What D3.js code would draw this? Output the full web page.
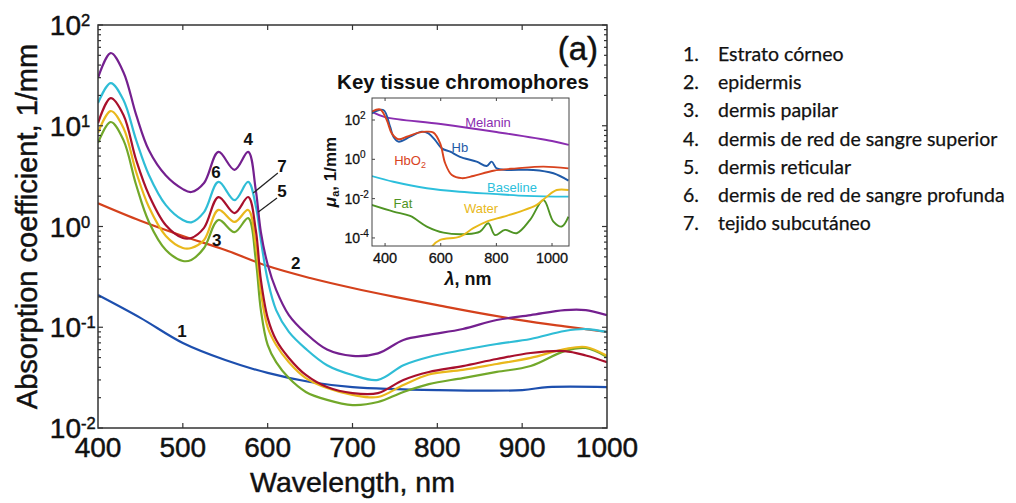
<!DOCTYPE html>
<html><head><meta charset="utf-8">
<script src="https://cdn.jsdelivr.net/npm/d3@7"></script>
<style>body{margin:0;background:#fff}svg{display:block}</style>
</head><body><svg id="c" width="1016" height="503"></svg>
<script>
// ---------- DATA ----------
const wavelengths = [400,415,430,445,460,480,500,510,525,542,561,577,586,592,600,610,625,645,670,700,730,760,790,830,870,910,950,975,1000];
const layer4 = [29.8,52.7,34,12.8,5.7,3.2,2.35,2.2,2.7,5.5,3.65,5.5,2.3,0.88,0.42,0.235,0.132,0.087,0.06,0.052,0.055,0.0747,0.084,0.096,0.118,0.132,0.148,0.148,0.132];
const layer6 = [16.8,26.5,18,7.2,3.25,1.63,1.16,1.1,1.39,2.77,1.83,2.77,1.6,0.73,0.295,0.148,0.09,0.061,0.042,0.0336,0.030,0.042,0.0507,0.0594,0.0682,0.0764,0.0918,0.096,0.09];
const layer7 = [10.6,18.8,12.8,4.57,2.06,1.03,0.77,0.77,0.97,1.96,1.36,1.96,0.92,0.295,0.124,0.0747,0.0496,0.0336,0.0255,0.0222,0.0222,0.030,0.036,0.0412,0.0484,0.0555,0.058,0.0525,0.045];
const layer5 = [8.5,14,9.5,3.47,1.56,0.805,0.612,0.612,0.734,1.46,1.11,1.46,0.655,0.224,0.1,0.0667,0.045,0.0313,0.0249,0.0213,0.0203,0.0267,0.034,0.0377,0.0432,0.0496,0.0608,0.0637,0.052];
const layer3 = [6.75,10.9,7.2,2.58,1.11,0.585,0.455,0.466,0.612,1.16,0.88,1.21,0.466,0.148,0.0667,0.045,0.0313,0.0228,0.019,0.0169,0.0181,0.0228,0.0273,0.0313,0.036,0.0412,0.058,0.0622,0.0507];
const wl1 = [400,450,500,550,600,650,700,800,900,930,1000];
const layer1 = [0.209,0.124,0.0698,0.0473,0.0352,0.0286,0.0255,0.0238,0.0238,0.0255,0.0255];
const wl2 = [400,450,500,550,600,650,700,750,800,850,900,950,1000];
const layer2 = [1.7,1.14,0.805,0.585,0.405,0.308,0.245,0.2,0.166,0.138,0.117,0.102,0.0897];

const xTickLabels = [400,500,600,700,800,900,1000];
const yTickExps = [-2,-1,0,1,2];

const legendItems = ["Estrato córneo","epidermis","dermis papilar","dermis de red de sangre superior","dermis reticular","dermis de red de sangre profunda","tejido subcutáneo"];

// curve number labels: [text, wavelength, value]
const curveLabels = [["4",577,7.4],["6",539,3.47],["7",617,3.98],["5",617,2.25],["3",540,0.735],["2",633,0.434],["1",499,0.092]];
const leaders = [[612,3.4,583,2.15],[611,1.92,589,1.39]];

// inset chromophores
const melaninWl = [353,400,600,800,1000,1060];
const melanin = [257,141,63,24.5,8.5,5.4];
const hbWl = [352,394,418,430,448,490,532,556,580,604,634,669,729,765,783,801,837,933,1005,1059];
const hb = [219,324,45.7,14.1,7.9,14.1,25.7,20.9,9.5,3.6,2.45,1.35,0.76,0.457,0.76,0.347,0.288,0.288,0.195,0.083];
const hbo2Wl = [352,382,406,424,448,478,520,550,574,598,616,640,676,717,789,873,969,1059];
const hbo2 = [263,347,100,20.9,10.5,14.1,22.9,25.7,22.9,6.5,0.63,0.158,0.11,0.141,0.263,0.347,0.427,0.347];
const baseWl = [352,430,550,669,789,909,1059];
const baseline = [0.141,0.0724,0.0339,0.0224,0.0174,0.0138,0.0126];
const fatWl = [352,430,490,550,610,694,741,771,795,831,873,921,969,1005,1035,1059];
const fat = [0.0048,0.0022,0.00132,0.00038,0.000186,0.000158,0.00021,0.00056,0.000141,0.000257,0.000174,0.00083,0.0085,0.00068,0.00038,0.0012];
const waterWl = [560,568,598,669,717,765,825,885,945,981,1017,1059];
const water = [0.00002,0.000036,0.000079,0.000117,0.000316,0.00068,0.0012,0.0022,0.0048,0.0126,0.0275,0.0275];
const insetXTicks = [400,600,800,1000];
const insetYExps = [2,0,-2,-4];
const insetNames = [["Melanin",770,71],["Hb",669,4.2],["HbO2",490,0.92],["Baseline",856,0.035],["Fat",464,0.006],["Water",745,0.0033]];

// ---------- DRAW ----------
const svg = d3.select('#c');
const F = '"Liberation Sans", Arial, Helvetica, sans-serif';
const INK = '#111';
const x = d3.scaleLinear().domain([400,1000]).range([98,607]);
const y = d3.scaleLog().domain([0.01,100]).range([428,25]);

svg.append('defs').append('clipPath').attr('id','mainClip')
  .append('rect').attr('x',98).attr('y',25).attr('width',509).attr('height',403);

const plot = svg.append('g').attr('clip-path','url(#mainClip)');
const lineGen = (xs) => d3.line().x((d,i)=>x(xs[i])).y(d=>y(d)).curve(d3.curveCatmullRom.alpha(0.5));

const series = [
  {xs:wl2, v:layer2, c:'#d4411c'},
  {xs:wl1, v:layer1, c:'#1d4fae'},
  {xs:wavelengths, v:layer3, c:'#72a82a'},
  {xs:wavelengths, v:layer5, c:'#e9b81c'},
  {xs:wavelengths, v:layer7, c:'#a8102c'},
  {xs:wavelengths, v:layer6, c:'#2fbdd6'},
  {xs:wavelengths, v:layer4, c:'#74208f'}
];
series.forEach(s=>{
  plot.append('path').attr('d', lineGen(s.xs)(s.v)).attr('fill','none')
    .attr('stroke', s.c).attr('stroke-width', 2.2).attr('stroke-linejoin','round');
});

// frame
const [x0,x1] = x.range(), [yb,yt] = y.range();
svg.append('rect').attr('x',x0).attr('y',yt).attr('width',x1-x0).attr('height',yb-yt)
  .attr('fill','none').attr('stroke','#333').attr('stroke-width',1.5);

// ticks
const axG = svg.append('g').attr('stroke','#333').attr('stroke-width',1.2);
xTickLabels.slice(1,-1).forEach(t=>{
  axG.append('line').attr('x1',x(t)).attr('x2',x(t)).attr('y1',yb).attr('y2',yb-5);
  axG.append('line').attr('x1',x(t)).attr('x2',x(t)).attr('y1',yt).attr('y2',yt+5);
});
yTickExps.forEach(e=>{
  const v = Math.pow(10,e);
  axG.append('line').attr('x1',x0).attr('x2',x0+5).attr('y1',y(v)).attr('y2',y(v));
  axG.append('line').attr('x1',x1).attr('x2',x1-5).attr('y1',y(v)).attr('y2',y(v));
  if (e<2) for (let k=2;k<10;k++){
    const vv=k*v;
    axG.append('line').attr('x1',x0).attr('x2',x0+3).attr('y1',y(vv)).attr('y2',y(vv));
    axG.append('line').attr('x1',x1).attr('x2',x1-3).attr('y1',y(vv)).attr('y2',y(vv));
  }
});

const heavy = sel => sel.attr('stroke',INK).attr('stroke-width',0.45).attr('fill',INK);

// x tick labels
heavy(svg.append('g').selectAll('text').data(xTickLabels).join('text')
  .attr('x',d=>x(d)).attr('y',yb+29).attr('text-anchor','middle')
  .attr('font-family',F).attr('font-size',28).text(d=>d));
// y tick labels
yTickExps.forEach(e=>{
  const yy = y(Math.pow(10,e));
  heavy(svg.append('text').attr('x',x0-17).attr('y',yy+10).attr('text-anchor','end')
    .attr('font-family',F).attr('font-size',28).text('10'));
  heavy(svg.append('text').attr('x',x0-17).attr('y',yy+1).attr('text-anchor','start')
    .attr('font-family',F).attr('font-size',16.5).text(e<0?('-'+(-e)):String(e)));
});
// axis titles
heavy(svg.append('text').attr('x',(x0+x1)/2).attr('y',492).attr('text-anchor','middle')
  .attr('font-family',F).attr('font-size',28.5).text('Wavelength, nm'));
heavy(svg.append('text').attr('transform',`translate(37,${(yt+yb)/2}) rotate(-90)`).attr('text-anchor','middle')
  .attr('font-family',F).attr('font-size',29).text('Absorption coefficient, 1/mm'));
heavy(svg.append('text').attr('x',598).attr('y',60).attr('text-anchor','end')
  .attr('font-family',F).attr('font-size',33).text('(a)'));

// curve labels
svg.append('g').selectAll('text').data(curveLabels).join('text')
  .attr('x',d=>x(d[1])).attr('y',d=>y(d[2])).attr('dy','0.36em').attr('text-anchor','middle')
  .attr('font-family',F).attr('font-weight','bold').attr('font-size',17).attr('fill',INK).text(d=>d[0]);
svg.append('g').selectAll('line').data(leaders).join('line')
  .attr('x1',d=>x(d[0])).attr('y1',d=>y(d[1])).attr('x2',d=>x(d[2])).attr('y2',d=>y(d[3]))
  .attr('stroke','#222').attr('stroke-width',1.2);

// ---------- INSET ----------
const ix = d3.scaleLinear().domain([353,1061]).range([372,569]);
const iy = d3.scaleLog().domain([Math.pow(10,-4.41),Math.pow(10,3.12)]).range([246,98]);
svg.select('defs').append('clipPath').attr('id','insetClip')
  .append('rect').attr('x',372).attr('y',98).attr('width',197).attr('height',148);
svg.append('rect').attr('x',372).attr('y',98).attr('width',197).attr('height',148).attr('fill','#fff');
const ig = svg.append('g').attr('clip-path','url(#insetClip)');
const iline = (xs) => d3.line().x((d,i)=>ix(xs[i])).y(d=>iy(d)).curve(d3.curveCatmullRom.alpha(0.5));
const insetColors = {Melanin:'#8a2db0',Hb:'#1f5aa8',HbO2:'#d8431e',Baseline:'#2cbfdc',Fat:'#4f9424',Water:'#e8b91a'};
const inSeries = [
  {xs:melaninWl,v:melanin,c:insetColors.Melanin},
  {xs:baseWl,v:baseline,c:insetColors.Baseline},
  {xs:fatWl,v:fat,c:insetColors.Fat},
  {xs:waterWl,v:water,c:insetColors.Water},
  {xs:hbWl,v:hb,c:insetColors.Hb},
  {xs:hbo2Wl,v:hbo2,c:insetColors.HbO2}
];
inSeries.forEach(s=>{
  ig.append('path').attr('d',iline(s.xs)(s.v)).attr('fill','none').attr('stroke',s.c).attr('stroke-width',1.9);
});
svg.append('rect').attr('x',372).attr('y',98).attr('width',197).attr('height',148)
  .attr('fill','none').attr('stroke','#444').attr('stroke-width',1);
insetXTicks.forEach(t=>{
  svg.append('line').attr('x1',ix(t)).attr('x2',ix(t)).attr('y1',246).attr('y2',243).attr('stroke','#444');
  svg.append('line').attr('x1',ix(t)).attr('x2',ix(t)).attr('y1',98).attr('y2',101).attr('stroke','#444');
});
heavy(svg.append('g').selectAll('text').data(insetXTicks).join('text')
  .attr('x',d=>ix(d)).attr('y',263).attr('text-anchor','middle')
  .attr('font-family',F).attr('font-size',14.5).text(d=>d)).attr('stroke-width',0.3);
insetYExps.forEach(e=>{
  const yy = iy(Math.pow(10,e));
  svg.append('line').attr('x1',372).attr('x2',375).attr('y1',yy).attr('y2',yy).attr('stroke','#444');
  heavy(svg.append('text').attr('x',360).attr('y',yy+5).attr('text-anchor','end')
    .attr('font-family',F).attr('font-size',14).text('10')).attr('stroke-width',0.3);
  heavy(svg.append('text').attr('x',360).attr('y',yy-1).attr('text-anchor','start')
    .attr('font-family',F).attr('font-size',10).text(e<0?('-'+(-e)):String(e))).attr('stroke-width',0.2);
});
insetNames.forEach(n=>{
  const t = svg.append('text').attr('x',ix(n[1])).attr('y',iy(n[2])).attr('dy','0.35em').attr('text-anchor','middle')
    .attr('font-family',F).attr('font-size',13).attr('fill',insetColors[n[0]]);
  if (n[0]==='HbO2'){ t.append('tspan').text('HbO'); t.append('tspan').attr('font-size',9).attr('dy',3).text('2'); }
  else t.text(n[0]);
});
svg.append('text').attr('x',463).attr('y',89).attr('text-anchor','middle')
  .attr('font-family',F).attr('font-weight','bold').attr('font-size',20.5).attr('fill',INK).text('Key tissue chromophores');
const lx = svg.append('text').attr('x',468).attr('y',285).attr('text-anchor','middle')
  .attr('font-family',F).attr('font-weight','bold').attr('font-size',18).attr('fill',INK);
lx.append('tspan').attr('font-style','italic').text('λ');
lx.append('tspan').text(', nm');
const ly = svg.append('text').attr('transform','translate(336,172) rotate(-90)').attr('text-anchor','middle')
  .attr('font-family',F).attr('font-weight','bold').attr('font-size',17).attr('fill',INK);
ly.append('tspan').attr('font-style','italic').text('μ');
ly.append('tspan').attr('font-size',11).attr('dy',3).text('a');
ly.append('tspan').attr('dy',-3).text(', 1/mm');

// ---------- LEGEND LIST ----------
const lg = svg.append('g');
const LF = 'Lato, "Open Sans", sans-serif';
legendItems.forEach((t,i)=>{
  lg.append('text').attr('x',683).attr('y',61+i*28.2).attr('font-family',LF)
    .attr('font-size',19.5).attr('fill','#111').attr('stroke','#111').attr('stroke-width',0.25).text((i+1)+'.');
  lg.append('text').attr('x',718).attr('y',61+i*28.2).attr('font-family',LF)
    .attr('font-size',19.5).attr('fill','#111').attr('stroke','#111').attr('stroke-width',0.25).text(t);
});
</script></body></html>
